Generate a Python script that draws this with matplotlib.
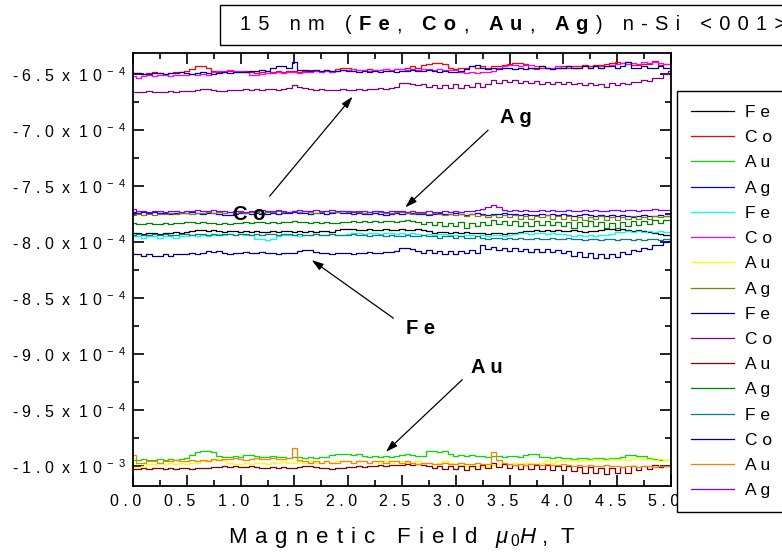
import numpy as np
import matplotlib
matplotlib.use("Agg")
import matplotlib.pyplot as plt
from matplotlib.patches import Rectangle
from matplotlib.transforms import ScaledTranslation

plt.rcParams["font.family"] = ["Liberation Sans", "DejaVu Sans"]
plt.rcParams["mathtext.fontset"] = "custom"
plt.rcParams["mathtext.rm"] = "Liberation Sans"
plt.rcParams["mathtext.it"] = "Liberation Sans:italic"
plt.rcParams["mathtext.bf"] = "Liberation Sans:bold"

# magnetic field sweep (T)
field = np.linspace(0.0, 5.0, 101)

# signal in units of 1e-4
fe_black = [
    -7.92, -7.92, -7.93, -7.92, -7.92, -7.93, -7.92, -7.92, -7.91, -7.92,
    -7.91, -7.90, -7.89, -7.89, -7.90, -7.89, -7.90, -7.91, -7.90, -7.90,
    -7.91, -7.90, -7.91, -7.90, -7.91, -7.91, -7.90, -7.91, -7.90, -7.90,
    -7.91, -7.90, -7.91, -7.90, -7.91, -7.90, -7.90, -7.91, -7.89, -7.88,
    -7.88, -7.88, -7.89, -7.89, -7.88, -7.89, -7.89, -7.88, -7.89, -7.89,
    -7.88, -7.89, -7.89, -7.88, -7.89, -7.90, -7.92, -7.91, -7.91, -7.92,
    -7.91, -7.92, -7.91, -7.92, -7.92, -7.92, -7.93, -7.92, -7.92, -7.93,
    -7.92, -7.92, -7.91, -7.90, -7.90, -7.89, -7.90, -7.89, -7.90, -7.89,
    -7.90, -7.90, -7.89, -7.90, -7.91, -7.90, -7.90, -7.89, -7.88, -7.88,
    -7.89, -7.88, -7.89, -7.90, -7.89, -7.90, -7.91, -7.92, -7.93, -7.94,
    -7.94]

co_red = [
    -6.49, -6.49, -6.50, -6.49, -6.48, -6.49, -6.50, -6.49, -6.48, -6.48,
    -6.47, -6.45, -6.43, -6.43, -6.44, -6.47, -6.48, -6.48, -6.47, -6.48,
    -6.48, -6.47, -6.48, -6.49, -6.48, -6.47, -6.48, -6.47, -6.48, -6.47,
    -6.47, -6.48, -6.47, -6.46, -6.47, -6.47, -6.46, -6.47, -6.45, -6.44,
    -6.44, -6.45, -6.46, -6.46, -6.45, -6.46, -6.46, -6.45, -6.46, -6.45,
    -6.45, -6.44, -6.43, -6.44, -6.42, -6.41, -6.40, -6.40, -6.41, -6.44,
    -6.45, -6.44, -6.44, -6.43, -6.44, -6.43, -6.44, -6.43, -6.43, -6.42,
    -6.41, -6.40, -6.40, -6.41, -6.44, -6.45, -6.44, -6.44, -6.45, -6.44,
    -6.43, -6.44, -6.43, -6.43, -6.42, -6.43, -6.42, -6.42, -6.41, -6.40,
    -6.39, -6.40, -6.39, -6.42, -6.42, -6.41, -6.41, -6.38, -6.42, -6.41,
    -6.41]

au_lime = [
    -9.95, -9.95, -9.94, -9.95, -9.95, -9.94, -9.95, -9.94, -9.95, -9.94,
    -9.93, -9.90, -9.88, -9.87, -9.87, -9.88, -9.91, -9.92, -9.92, -9.91,
    -9.92, -9.90, -9.90, -9.91, -9.92, -9.92, -9.91, -9.92, -9.92, -9.93,
    -9.92, -9.92, -9.93, -9.92, -9.93, -9.92, -9.92, -9.90, -9.89, -9.89,
    -9.89, -9.90, -9.89, -9.91, -9.92, -9.91, -9.92, -9.91, -9.92, -9.91,
    -9.90, -9.89, -9.90, -9.91, -9.91, -9.87, -9.87, -9.88, -9.87, -9.89,
    -9.91, -9.90, -9.91, -9.90, -9.91, -9.91, -9.92, -9.91, -9.91, -9.92,
    -9.91, -9.91, -9.92, -9.90, -9.89, -9.89, -9.92, -9.92, -9.93, -9.92,
    -9.93, -9.93, -9.94, -9.93, -9.93, -9.94, -9.93, -9.93, -9.94, -9.93,
    -9.93, -9.92, -9.90, -9.90, -9.91, -9.91, -9.93, -9.94, -9.95, -9.95,
    -9.95]

ag_blue = [
    -7.73, -7.74, -7.73, -7.74, -7.73, -7.74, -7.74, -7.75, -7.74, -7.74,
    -7.74, -7.73, -7.74, -7.75, -7.74, -7.74, -7.75, -7.76, -7.76, -7.75,
    -7.74, -7.74, -7.75, -7.74, -7.75, -7.75, -7.74, -7.75, -7.74, -7.74,
    -7.73, -7.74, -7.74, -7.75, -7.74, -7.74, -7.75, -7.74, -7.73, -7.74,
    -7.74, -7.75, -7.74, -7.75, -7.75, -7.74, -7.75, -7.76, -7.75, -7.74,
    -7.75, -7.74, -7.74, -7.75, -7.75, -7.76, -7.75, -7.74, -7.75, -7.75,
    -7.74, -7.75, -7.76, -7.75, -7.74, -7.75, -7.76, -7.75, -7.75, -7.74,
    -7.75, -7.75, -7.76, -7.75, -7.76, -7.76, -7.75, -7.76, -7.75, -7.76,
    -7.75, -7.76, -7.77, -7.76, -7.75, -7.76, -7.77, -7.76, -7.77, -7.76,
    -7.77, -7.76, -7.77, -7.78, -7.77, -7.76, -7.77, -7.77, -7.76, -7.77,
    -7.77]

fe_cyan = [
    -7.95, -7.95, -7.96, -7.95, -7.95, -7.96, -7.95, -7.95, -7.96, -7.95,
    -7.95, -7.94, -7.95, -7.94, -7.95, -7.94, -7.93, -7.94, -7.93, -7.94,
    -7.93, -7.94, -7.94, -7.97, -7.97, -7.98, -7.97, -7.95, -7.94, -7.94,
    -7.94, -7.95, -7.94, -7.94, -7.93, -7.94, -7.94, -7.93, -7.94, -7.94,
    -7.93, -7.92, -7.92, -7.93, -7.92, -7.92, -7.93, -7.92, -7.92, -7.93,
    -7.92, -7.93, -7.92, -7.93, -7.94, -7.93, -7.94, -7.93, -7.93, -7.94,
    -7.94, -7.95, -7.94, -7.94, -7.95, -7.94, -7.95, -7.94, -7.94, -7.95,
    -7.94, -7.93, -7.92, -7.92, -7.93, -7.92, -7.92, -7.93, -7.92, -7.93,
    -7.93, -7.94, -7.95, -7.94, -7.95, -7.94, -7.95, -7.94, -7.94, -7.93,
    -7.91, -7.91, -7.90, -7.91, -7.90, -7.91, -7.90, -7.91, -7.90, -7.91,
    -7.91]

co_magenta = [
    -6.52, -6.53, -6.52, -6.51, -6.52, -6.51, -6.51, -6.52, -6.51, -6.51,
    -6.51, -6.50, -6.51, -6.50, -6.51, -6.48, -6.47, -6.47, -6.46, -6.47,
    -6.47, -6.48, -6.51, -6.51, -6.50, -6.49, -6.49, -6.48, -6.49, -6.48,
    -6.48, -6.49, -6.48, -6.48, -6.47, -6.48, -6.47, -6.48, -6.47, -6.46,
    -6.46, -6.45, -6.46, -6.46, -6.47, -6.46, -6.46, -6.45, -6.46, -6.45,
    -6.45, -6.46, -6.45, -6.46, -6.45, -6.45, -6.46, -6.45, -6.46, -6.46,
    -6.46, -6.48, -6.49, -6.48, -6.49, -6.48, -6.48, -6.47, -6.44, -6.43,
    -6.42, -6.42, -6.43, -6.42, -6.42, -6.43, -6.43, -6.44, -6.44, -6.43,
    -6.44, -6.43, -6.44, -6.44, -6.43, -6.44, -6.43, -6.43, -6.43, -6.42,
    -6.41, -6.40, -6.41, -6.40, -6.41, -6.39, -6.40, -6.39, -6.40, -6.41,
    -6.41]

au_yellow = [
    -10.01, -10.01, -10.00, -9.98, -9.98, -9.97, -9.98, -9.97, -9.98, -9.97,
    -9.98, -9.97, -9.97, -9.96, -9.95, -9.95, -9.94, -9.95, -9.97, -9.98,
    -9.98, -9.97, -9.98, -9.97, -9.97, -9.98, -9.97, -9.97, -9.96, -9.97,
    -9.97, -9.96, -9.97, -9.96, -9.97, -9.97, -9.96, -9.97, -9.96, -9.96,
    -9.96, -9.97, -9.96, -9.96, -9.97, -9.96, -9.97, -9.96, -9.97, -9.96,
    -9.96, -9.97, -9.97, -9.96, -9.97, -9.97, -9.98, -9.97, -9.96, -9.97,
    -9.98, -9.99, -10.00, -10.01, -10.00, -10.01, -10.00, -9.99, -9.98, -9.97,
    -9.98, -9.97, -9.98, -9.97, -9.97, -9.98, -9.97, -9.96, -9.97, -9.96,
    -9.96, -9.95, -9.95, -9.96, -9.95, -9.95, -9.94, -9.95, -9.95, -9.94,
    -9.95, -9.94, -9.95, -9.94, -9.93, -9.94, -9.94, -9.95, -9.94, -9.95,
    -9.95]

ag_olive = [
    -7.76, -7.75, -7.76, -7.75, -7.76, -7.75, -7.75, -7.74, -7.75, -7.74,
    -7.74, -7.75, -7.74, -7.74, -7.73, -7.74, -7.73, -7.74, -7.73, -7.74,
    -7.73, -7.74, -7.73, -7.73, -7.74, -7.73, -7.73, -7.72, -7.73, -7.73,
    -7.72, -7.73, -7.72, -7.73, -7.74, -7.73, -7.72, -7.73, -7.73, -7.72,
    -7.73, -7.72, -7.73, -7.74, -7.73, -7.72, -7.73, -7.74, -7.74, -7.73,
    -7.73, -7.74, -7.75, -7.74, -7.74, -7.75, -7.74, -7.75, -7.76, -7.75,
    -7.76, -7.75, -7.77, -7.75, -7.77, -7.76, -7.78, -7.76, -7.78, -7.76,
    -7.78, -7.76, -7.79, -7.77, -7.79, -7.77, -7.78, -7.76, -7.79, -7.77,
    -7.79, -7.77, -7.80, -7.78, -7.80, -7.78, -7.79, -7.77, -7.80, -7.78,
    -7.80, -7.78, -7.79, -7.77, -7.79, -7.78, -7.79, -7.77, -7.78, -7.77,
    -7.77]

fe_navy = [
    -8.11, -8.11, -8.12, -8.11, -8.12, -8.12, -8.11, -8.12, -8.11, -8.11,
    -8.11, -8.10, -8.11, -8.10, -8.08, -8.09, -8.08, -8.10, -8.11, -8.10,
    -8.10, -8.09, -8.10, -8.10, -8.09, -8.10, -8.10, -8.11, -8.10, -8.10,
    -8.10, -8.08, -8.07, -8.07, -8.09, -8.10, -8.10, -8.11, -8.10, -8.10,
    -8.10, -8.11, -8.10, -8.10, -8.09, -8.10, -8.10, -8.09, -8.09, -8.08,
    -8.05, -8.05, -8.06, -8.08, -8.10, -8.07, -8.10, -8.08, -8.11, -8.08,
    -8.11, -8.08, -8.10, -8.07, -8.10, -8.03, -8.06, -8.04, -8.07, -8.05,
    -8.08, -8.05, -8.08, -8.06, -8.09, -8.06, -8.09, -8.06, -8.09, -8.07,
    -8.10, -8.08, -8.12, -8.09, -8.13, -8.10, -8.14, -8.11, -8.14, -8.11,
    -8.13, -8.09, -8.11, -8.07, -8.08, -8.05, -8.06, -8.03, -8.03, -8.00,
    -7.99]

co_purple = [
    -6.66, -6.66, -6.66, -6.65, -6.66, -6.66, -6.66, -6.65, -6.66, -6.65,
    -6.65, -6.65, -6.64, -6.63, -6.63, -6.64, -6.65, -6.65, -6.64, -6.64,
    -6.64, -6.63, -6.64, -6.63, -6.64, -6.63, -6.63, -6.64, -6.63, -6.62,
    -6.60, -6.61, -6.62, -6.63, -6.64, -6.63, -6.64, -6.64, -6.64, -6.63,
    -6.64, -6.64, -6.63, -6.64, -6.63, -6.63, -6.62, -6.63, -6.62, -6.61,
    -6.58, -6.58, -6.59, -6.60, -6.59, -6.61, -6.60, -6.62, -6.60, -6.62,
    -6.59, -6.62, -6.60, -6.61, -6.58, -6.61, -6.59, -6.55, -6.58, -6.55,
    -6.57, -6.55, -6.58, -6.56, -6.58, -6.56, -6.59, -6.57, -6.59, -6.57,
    -6.59, -6.57, -6.59, -6.58, -6.60, -6.58, -6.60, -6.59, -6.61, -6.58,
    -6.60, -6.58, -6.59, -6.57, -6.57, -6.55, -6.56, -6.53, -6.53, -6.50,
    -6.47]

au_maroon = [
    -10.03, -10.03, -10.02, -10.03, -10.02, -10.02, -10.03, -10.02, -10.03, -10.02,
    -10.02, -10.03, -10.02, -10.02, -10.02, -10.01, -10.01, -10.00, -10.01, -10.00,
    -10.01, -10.01, -10.00, -10.01, -10.02, -10.02, -10.01, -10.02, -10.01, -10.02,
    -10.02, -10.01, -10.00, -10.00, -10.01, -10.02, -10.02, -10.03, -10.02, -10.02,
    -10.01, -10.01, -10.00, -10.01, -10.00, -10.00, -9.99, -10.00, -9.99, -9.99,
    -9.99, -9.98, -9.99, -9.98, -9.99, -10.00, -10.02, -10.00, -10.03, -10.00,
    -10.03, -10.00, -10.04, -10.00, -10.03, -9.99, -10.02, -9.97, -10.01, -9.98,
    -10.02, -9.99, -10.03, -9.99, -10.03, -9.99, -10.03, -9.99, -10.04, -10.00,
    -10.04, -10.00, -10.05, -10.01, -10.06, -10.01, -10.06, -10.02, -10.07, -10.02,
    -10.06, -10.01, -10.06, -10.00, -10.04, -10.00, -10.03, -9.99, -10.01, -10.00,
    -10.00]

ag_green = [
    -7.83, -7.84, -7.84, -7.83, -7.84, -7.84, -7.83, -7.84, -7.83, -7.83,
    -7.82, -7.82, -7.83, -7.82, -7.83, -7.83, -7.84, -7.83, -7.84, -7.83,
    -7.83, -7.82, -7.83, -7.82, -7.82, -7.83, -7.82, -7.83, -7.82, -7.82,
    -7.81, -7.82, -7.82, -7.83, -7.82, -7.83, -7.82, -7.83, -7.83, -7.82,
    -7.82, -7.81, -7.82, -7.81, -7.82, -7.81, -7.82, -7.81, -7.81, -7.82,
    -7.81, -7.80, -7.81, -7.82, -7.84, -7.82, -7.85, -7.82, -7.86, -7.83,
    -7.86, -7.82, -7.87, -7.83, -7.86, -7.82, -7.85, -7.80, -7.84, -7.81,
    -7.85, -7.81, -7.86, -7.82, -7.86, -7.81, -7.85, -7.81, -7.85, -7.82,
    -7.86, -7.82, -7.87, -7.82, -7.86, -7.81, -7.86, -7.82, -7.87, -7.83,
    -7.87, -7.82, -7.86, -7.81, -7.85, -7.81, -7.84, -7.80, -7.83, -7.80,
    -7.80]

fe_teal = [
    -7.94, -7.93, -7.94, -7.94, -7.93, -7.94, -7.93, -7.94, -7.94, -7.93,
    -7.93, -7.94, -7.93, -7.93, -7.94, -7.93, -7.94, -7.93, -7.93, -7.94,
    -7.93, -7.93, -7.94, -7.93, -7.94, -7.93, -7.93, -7.94, -7.93, -7.93,
    -7.94, -7.93, -7.94, -7.94, -7.93, -7.94, -7.94, -7.93, -7.94, -7.94,
    -7.94, -7.93, -7.94, -7.94, -7.95, -7.94, -7.94, -7.95, -7.94, -7.95,
    -7.95, -7.94, -7.95, -7.95, -7.94, -7.95, -7.95, -7.96, -7.95, -7.95,
    -7.96, -7.95, -7.96, -7.96, -7.95, -7.96, -7.97, -7.96, -7.96, -7.97,
    -7.96, -7.97, -7.96, -7.97, -7.97, -7.96, -7.97, -7.97, -7.96, -7.97,
    -7.97, -7.96, -7.97, -7.97, -7.98, -7.97, -7.97, -7.98, -7.97, -7.97,
    -7.98, -7.97, -7.97, -7.98, -7.97, -7.98, -7.97, -7.97, -7.98, -7.97,
    -7.97]

co_royal = [
    -6.49, -6.49, -6.50, -6.50, -6.49, -6.49, -6.50, -6.49, -6.49, -6.48,
    -6.49, -6.50, -6.49, -6.48, -6.49, -6.50, -6.49, -6.48, -6.49, -6.48,
    -6.48, -6.48, -6.47, -6.47, -6.46, -6.47, -6.44, -6.43, -6.43, -6.44,
    -6.39, -6.46, -6.46, -6.47, -6.46, -6.47, -6.46, -6.47, -6.47, -6.46,
    -6.47, -6.47, -6.48, -6.47, -6.48, -6.47, -6.48, -6.47, -6.47, -6.48,
    -6.47, -6.47, -6.46, -6.47, -6.47, -6.46, -6.47, -6.48, -6.47, -6.48,
    -6.48, -6.47, -6.45, -6.43, -6.42, -6.44, -6.45, -6.44, -6.45, -6.44,
    -6.44, -6.45, -6.44, -6.45, -6.44, -6.44, -6.43, -6.44, -6.45, -6.44,
    -6.44, -6.43, -6.44, -6.44, -6.43, -6.44, -6.43, -6.44, -6.43, -6.43,
    -6.44, -6.43, -6.39, -6.44, -6.44, -6.43, -6.44, -6.44, -6.43, -6.44,
    -6.44]

au_orange = [
    -9.90, -9.97, -9.97, -9.96, -9.96, -9.97, -9.96, -9.96, -9.95, -9.96,
    -9.96, -9.95, -9.96, -9.95, -9.96, -9.94, -9.95, -9.94, -9.94, -9.93,
    -9.94, -9.95, -9.94, -9.93, -9.94, -9.94, -9.93, -9.94, -9.94, -9.93,
    -9.84, -9.95, -9.96, -9.97, -9.96, -9.97, -9.96, -9.97, -9.97, -9.96,
    -9.96, -9.97, -9.96, -9.96, -9.97, -9.96, -9.96, -9.97, -9.96, -9.96,
    -9.97, -9.96, -9.97, -9.98, -9.97, -9.97, -9.98, -9.98, -9.97, -9.98,
    -9.98, -9.97, -9.98, -9.98, -9.97, -9.98, -9.98, -9.88, -9.95, -9.97,
    -9.98, -9.99, -9.98, -9.99, -9.98, -9.98, -9.99, -9.98, -9.99, -9.99,
    -9.98, -9.99, -10.00, -9.99, -10.00, -9.99, -10.00, -10.00, -9.99, -10.00,
    -10.00, -10.01, -10.00, -10.00, -10.01, -10.00, -10.00, -10.01, -10.00, -10.00,
    -10.00]

ag_violet = [
    -7.70, -7.72, -7.72, -7.73, -7.72, -7.72, -7.73, -7.72, -7.72, -7.73,
    -7.72, -7.72, -7.71, -7.72, -7.72, -7.71, -7.72, -7.72, -7.73, -7.72,
    -7.72, -7.73, -7.72, -7.72, -7.71, -7.72, -7.72, -7.71, -7.72, -7.73,
    -7.72, -7.71, -7.72, -7.72, -7.71, -7.72, -7.72, -7.71, -7.72, -7.72,
    -7.72, -7.73, -7.72, -7.72, -7.73, -7.72, -7.72, -7.73, -7.72, -7.72,
    -7.72, -7.73, -7.72, -7.73, -7.73, -7.72, -7.73, -7.73, -7.72, -7.73,
    -7.72, -7.73, -7.72, -7.72, -7.71, -7.70, -7.69, -7.67, -7.69, -7.71,
    -7.72, -7.71, -7.72, -7.71, -7.72, -7.72, -7.71, -7.72, -7.71, -7.72,
    -7.72, -7.71, -7.72, -7.72, -7.71, -7.72, -7.71, -7.72, -7.72, -7.71,
    -7.71, -7.72, -7.71, -7.71, -7.72, -7.71, -7.71, -7.70, -7.71, -7.71,
    -7.71]

series_labels = ["Fe", "Co", "Au", "Ag"] * 4
series_values = [fe_black, co_red, au_lime, ag_blue,
                 fe_cyan, co_magenta, au_yellow, ag_olive,
                 fe_navy, co_purple, au_maroon, ag_green,
                 fe_teal, co_royal, au_orange, ag_violet]
series_colors = ["#000000", "#ff0000", "#00e000", "#0000ff",
                 "#00ffff", "#ff00ff", "#ffff00", "#808000",
                 "#000080", "#800080", "#800000", "#008000",
                 "#008080", "#0000a0", "#ff8000", "#8000ff"]

x_ticks = [0.0, 0.5, 1.0, 1.5, 2.0, 2.5, 3.0, 3.5, 4.0, 4.5, 5.0]
x_ticklabels = ["0.0", "0.5", "1.0", "1.5", "2.0", "2.5",
                "3.0", "3.5", "4.0", "4.5", "5.0"]
y_ticks = [-6.5, -7.0, -7.5, -8.0, -8.5, -9.0, -9.5, -10.0]
y_mantissas = ["-6.5", "-7.0", "-7.5", "-8.0", "-8.5", "-9.0", "-9.5", "-1.0"]
y_exponents = ["-4", "-4", "-4", "-4", "-4", "-4", "-4", "-3"]

WIDE = " \u200a"


def spaced(s, sep=" "):
    """Letter-spaced version of a string."""
    return sep.join(s)


def sci_label(mant, expo):
    return (spaced(mant) + "  x  " + spaced("10")
            + r"$^{\,\," + expo[0] + r"\;\," + expo[1] + "}$")


W, H = 782, 554
fig = plt.figure(figsize=(W / 100, H / 100), dpi=100)
ax = fig.add_axes([133 / W, 1 - 486 / H, (671 - 133) / W, (486 - 53) / H])

for vals, col, lab in zip(series_values, series_colors, series_labels):
    ax.plot(field, vals, color=col, lw=0.9, drawstyle="steps-mid",
            label=spaced(lab))

ax.set_xlim(0.0, 5.0)
ax.set_ylim(-10.18, -6.31)
ax.set_xticks(x_ticks)
ax.set_xticklabels([spaced(t) for t in x_ticklabels], fontsize=11.5)
ax.set_xticks(np.arange(0.25, 5.0, 0.5), minor=True)
ax.set_yticks(y_ticks)
ax.set_yticklabels([sci_label(m, e) for m, e in zip(y_mantissas, y_exponents)],
                   fontsize=11.5)
ax.set_yticks(np.arange(-6.75, -10.0, -0.5), minor=True)
ax.tick_params(which="both", direction="in", top=True, right=True, width=1.2)
ax.tick_params(which="major", length=8, pad=5)
ax.tick_params(which="minor", length=4)
ax.tick_params(axis="x", which="major", pad=6)
shift = ScaledTranslation(-7 / 100, 0, fig.dpi_scale_trans)
for lbl in ax.get_xticklabels():
    lbl.set_transform(lbl.get_transform() + shift)
for sp in ax.spines.values():
    sp.set_linewidth(1.3)

ax.set_xlabel(spaced("Magnetic Field", WIDE)
              + r"   $\mathit{\mu}_{\,0}\mathit{H}$ ,  T",
              fontsize=16, labelpad=11)

arrow_kw = dict(arrowstyle="-|>,head_length=0.7,head_width=0.22",
                color="black", lw=0.9, shrinkA=0, shrinkB=0)
notes = [("Co", (1.08, -7.75), (1.27, -7.59), (2.04, -6.70)),
         ("Ag", (3.56, -6.89), (3.30, -7.00), (2.53, -7.69)),
         ("Fe", (2.67, -8.77), (2.42, -8.68), (1.66, -8.16)),
         ("Au", (3.29, -9.12), (3.06, -9.23), (2.35, -9.875))]
for txt, tpos, tail, head in notes:
    ax.text(*tpos, spaced(txt), fontsize=14.5, fontweight="bold",
            ha="center", va="center")
    ax.annotate("", xy=head, xytext=tail, arrowprops=arrow_kw)

leg = ax.legend(loc="upper left", bbox_to_anchor=(677 / W, 1 - 91 / H),
                bbox_transform=fig.transFigure, fontsize=12.5, frameon=True,
                fancybox=False, edgecolor="black", framealpha=1,
                borderaxespad=0, borderpad=0.8, handlelength=2.5,
                handletextpad=0.6, labelspacing=0.58)
leg.get_frame().set_linewidth(1.0)

# header box running off the right edge
fig.patches.append(Rectangle((220 / W, 1 - 45 / H), 600 / W, 40 / H,
                             transform=fig.transFigure, fill=False,
                             edgecolor="black", lw=1.0))
title_parts = [("15 nm (", "normal"), ("Fe", "bold"), (", ", "normal"),
               ("Co", "bold"), (", ", "normal"), ("Au", "bold"),
               (", ", "normal"), ("Ag", "bold"), (") n-Si <001>", "normal")]
renderer = fig.canvas.get_renderer()
xpos = 240
for part, weight in title_parts:
    t = fig.text(xpos / W, 1 - 25 / H, spaced(part, WIDE) + WIDE, fontsize=14.5,
                 fontweight=weight, ha="left", va="center")
    xpos = t.get_window_extent(renderer).x1

fig.savefig("out.png", dpi=100)
